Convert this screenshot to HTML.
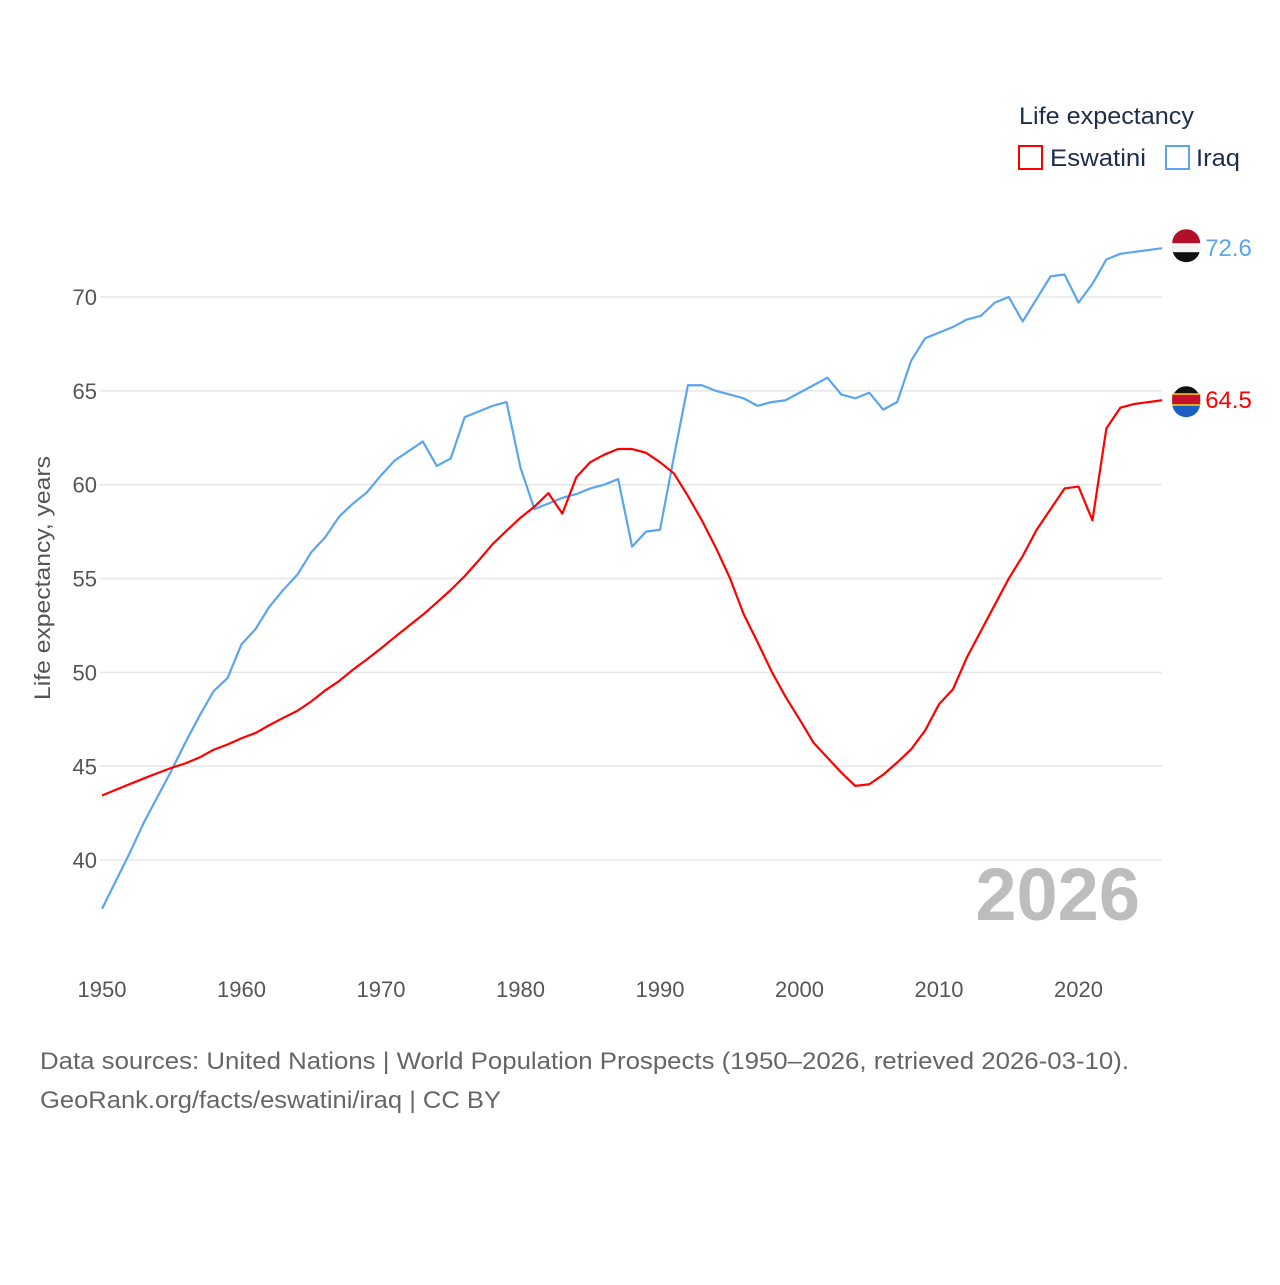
<!DOCTYPE html>
<html><head><meta charset="utf-8"><style>
body{margin:0;background:#fff;font-family:"Liberation Sans",sans-serif}
svg text{font-family:"Liberation Sans",sans-serif}
</style></head><body>
<svg id="chart" width="1280" height="1280" viewBox="0 0 1280 1280" xmlns="http://www.w3.org/2000/svg">
<rect width="1280" height="1280" fill="#fff"/>
<g id="grid"></g><g id="yticks"></g><g id="xticks"></g><g id="lines"></g>
<text transform="translate(50,578) rotate(-90)" text-anchor="middle" font-size="22" fill="#555" textLength="244" lengthAdjust="spacingAndGlyphs">Life expectancy, years</text>
<text x="1140" y="920" text-anchor="end" font-size="74" font-weight="bold" fill="#bdbdbd">2026</text>
<text x="1019" y="124" font-size="24" fill="#1d2d4a" textLength="175" lengthAdjust="spacingAndGlyphs">Life expectancy</text>
<g><rect x="1019" y="146" width="23" height="23" fill="none" stroke="#f00" stroke-width="2"/><text x="1050" y="166" font-size="24" fill="#1d2d4a" textLength="96" lengthAdjust="spacingAndGlyphs">Eswatini</text></g>
<g><rect x="1166" y="146" width="23" height="23" fill="none" stroke="#5aa5ee" stroke-width="2"/><text x="1196" y="166" font-size="24" fill="#1d2d4a" textLength="44" lengthAdjust="spacingAndGlyphs">Iraq</text></g>
<text x="40" y="1069" font-size="24" fill="#666" textLength="1089" lengthAdjust="spacingAndGlyphs">Data sources: United Nations | World Population Prospects (1950–2026, retrieved 2026-03-10).</text>
<text x="40" y="1108" font-size="24" fill="#666" textLength="461" lengthAdjust="spacingAndGlyphs">GeoRank.org/facts/eswatini/iraq | CC BY</text>
</svg>
<script>
const years=[];for(let y=1950;y<=2026;y++)years.push(y);
const iraq=[37.4,38.9,40.4,42.0,43.4,44.8,46.3,47.7,49.0,49.7,51.5,52.3,53.5,54.4,55.2,56.4,57.2,58.3,59.0,59.6,60.5,61.3,61.8,62.3,61.0,61.4,63.6,63.9,64.2,64.4,60.9,58.7,59.0,59.3,59.5,59.8,60.0,60.3,56.7,57.5,57.6,61.5,65.3,65.3,65.0,64.8,64.6,64.2,64.4,64.5,64.9,65.3,65.7,64.8,64.6,64.9,64.0,64.4,66.6,67.8,68.1,68.4,68.8,69.0,69.7,70.0,68.7,69.9,71.1,71.2,69.7,70.7,72.0,72.3,72.4,72.5,72.6];
const eswatini=[43.44,43.75,44.05,44.35,44.64,44.92,45.16,45.47,45.88,46.16,46.49,46.77,47.19,47.58,47.95,48.45,49.04,49.54,50.15,50.7,51.28,51.89,52.48,53.07,53.72,54.39,55.13,55.96,56.83,57.55,58.24,58.83,59.55,58.46,60.4,61.2,61.6,61.9,61.9,61.7,61.2,60.6,59.4,58.1,56.65,55.05,53.1,51.6,50.05,48.7,47.5,46.26,45.46,44.66,43.95,44.04,44.55,45.2,45.9,46.9,48.3,49.1,50.8,52.2,53.6,55.0,56.2,57.6,58.7,59.8,59.9,58.1,63.0,64.1,64.3,64.4,64.5];
const yTicks=[40,45,50,55,60,65,70];
const xTicks=[1950,1960,1970,1980,1990,2000,2010,2020];
const NS="http://www.w3.org/2000/svg";
const xs=y=>102+(y-1950)*13.95;
const ys=v=>297+(70-v)*18.77;
function mk(t,a,p){const e=document.createElementNS(NS,t);for(const k in a)e.setAttribute(k,a[k]);p.appendChild(e);return e;}
const g=document.getElementById('grid'),yt=document.getElementById('yticks'),xt=document.getElementById('xticks'),ln=document.getElementById('lines');
yTicks.forEach(v=>{
 const l=mk('line',{x1:100,x2:1162,y1:ys(v),y2:ys(v),stroke:'#e6e6e6','stroke-width':1.5},g);
 
 
 const t=mk('text',{x:97,y:ys(v)+8,'text-anchor':'end','font-size':22,fill:'#555'},yt);t.textContent=v;
 
 
});
xTicks.forEach(v=>{
 const t=mk('text',{x:xs(v),y:997,'text-anchor':'middle','font-size':22,fill:'#555'},xt);t.textContent=v;
 
 
});
function series(vals,color,name){
 const p=mk('polyline',{points:vals.map((v,i)=>xs(years[i])+','+ys(v)).join(' '),fill:'none',stroke:color,'stroke-width':2.2,'stroke-linejoin':'round'},ln);
 
 
 const last=vals[vals.length-1],lx=xs(years[years.length-1]),ly=ys(last);
 const c=mk('circle',{cx:lx+24,cy:ly,r:14,fill:'#111'},ln);
 
 
 const t=mk('text',{x:lx+43,y:ly+8,'font-size':24,fill:color},ln);t.textContent=last.toFixed(1);
 
 
 return [lx,ly];
}
let [ix,iy]=series(iraq,'#5aa5ee','iraq');
mk('path',{d:`M${ix+10},${iy-5} a14,14 0 0 1 28,0 z`,fill:'#b0102a'},ln);
mk('rect',{x:ix+10,y:iy-5,width:28,height:9,fill:'#f4f4f4'},ln);
let [ex,ey]=series(eswatini,'#ff0000','eswatini');
mk('path',{d:`M${ex+10},${ey+3} a14,14 0 0 0 28,0 z`,fill:'#1a5fc4'},ln);
mk('rect',{x:ex+10,y:ey-6,width:28,height:10,fill:'#c8102e'},ln);
mk('rect',{x:ex+10,y:ey-7,width:28,height:1.5,fill:'#ffd200'},ln);
mk('rect',{x:ex+10,y:ey+4,width:28,height:1.5,fill:'#ffd200'},ln);
</script>
</body></html>
